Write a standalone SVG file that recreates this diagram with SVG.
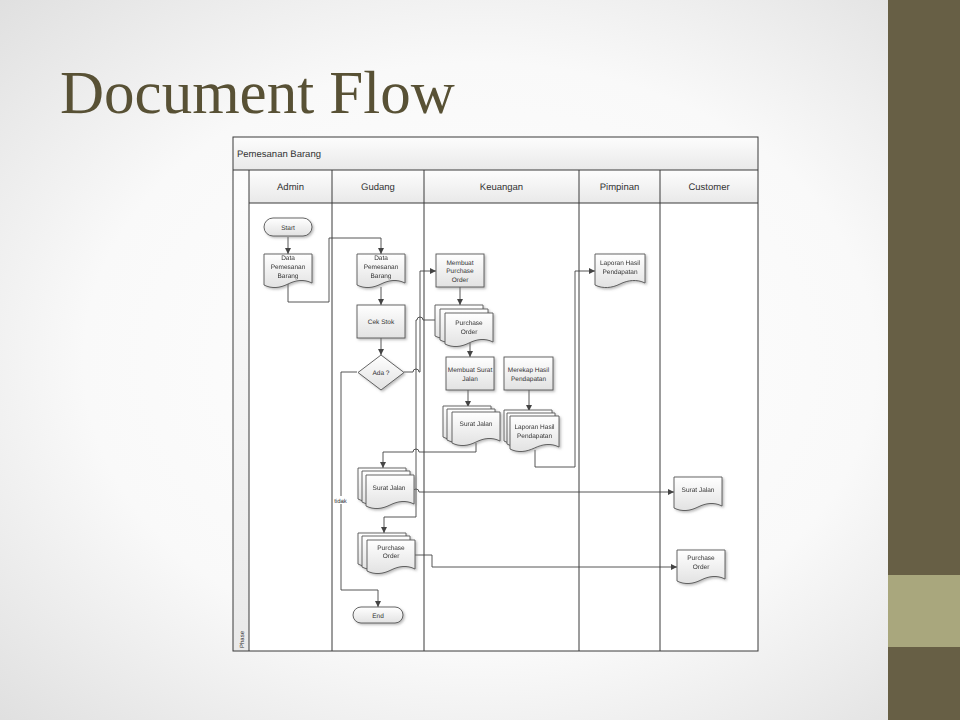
<svg xmlns="http://www.w3.org/2000/svg" xmlns:xlink="http://www.w3.org/1999/xlink" width="960" height="720" viewBox="0 0 960 720">
<defs>
<radialGradient id="bg" cx="0.5" cy="0.5" r="0.75">
<stop offset="0" stop-color="#ffffff"/>
<stop offset="0.55" stop-color="#f9f9f9"/>
<stop offset="1" stop-color="#dcdcdc"/>
</radialGradient>
<linearGradient id="hdr" x1="0" y1="0" x2="0" y2="1">
<stop offset="0" stop-color="#fdfdfd"/>
<stop offset="1" stop-color="#e9e9e9"/>
</linearGradient>
<linearGradient id="shp" x1="0" y1="0" x2="0" y2="1">
<stop offset="0" stop-color="#ffffff"/>
<stop offset="1" stop-color="#e2e2e2"/>
</linearGradient>
<filter id="sh" x="-20%" y="-20%" width="150%" height="150%">
<feDropShadow dx="1.5" dy="1.5" stdDeviation="0.8" flood-color="#777" flood-opacity="0.5"/>
</filter>
<path id="doc" d="M0,0 H48 V29 C40,25 32,26 24,30 C16,34 8,35 0,31 Z"/>
<marker id="arr" markerUnits="userSpaceOnUse" markerWidth="8" markerHeight="8" refX="6" refY="3" orient="auto">
<path d="M0,0 L6,3 L0,6 Z" fill="#444"/>
</marker>
<style>
text{text-rendering:geometricPrecision}
.frame{fill:none;stroke:#3a3a3a;stroke-width:1}
.lane{stroke:#3a3a3a;stroke-width:1}
.box{fill:url(#shp);stroke:#555;stroke-width:0.9;filter:url(#sh)}
.d{fill:url(#shp);stroke:#555;stroke-width:0.9}
.ds{filter:url(#sh)}
.t{font-family:"Liberation Sans",Arial,sans-serif;font-size:6.5px;fill:#333;text-anchor:middle}
.h{font-family:"Liberation Sans",Arial,sans-serif;font-size:9.5px;fill:#333;text-anchor:middle}
.c{fill:none;stroke:#444;stroke-width:0.9}
.ca{fill:none;stroke:#444;stroke-width:0.9;marker-end:url(#arr)}
</style>
</defs>

<rect x="0" y="0" width="960" height="720" fill="url(#bg)"/>
<rect x="888" y="0" width="72" height="720" fill="#675f45"/>
<rect x="888" y="575" width="72" height="72" fill="#a9a77d"/>

<text x="60" y="113" font-family="Liberation Serif,Georgia,serif" font-size="61" fill="#585135">Document Flow</text>

<g id="pool">
<rect x="233" y="137" width="525" height="514" fill="#ffffff"/>
<rect x="233" y="137" width="525" height="33" fill="url(#hdr)"/>
<rect x="233" y="170" width="16" height="481" fill="url(#hdr)"/>
<rect x="249" y="170" width="509" height="33" fill="url(#hdr)"/>
<text x="237" y="157" font-family="Liberation Sans,Arial,sans-serif" font-size="9.5" fill="#333">Pemesanan Barang</text>
<text transform="translate(243.5,648) rotate(-90)" font-family="Liberation Sans,Arial,sans-serif" font-size="6" fill="#333">Phase</text>
<line class="lane" x1="233" y1="170" x2="758" y2="170"/>
<line class="lane" x1="249" y1="203" x2="758" y2="203"/>
<line class="lane" x1="249" y1="170" x2="249" y2="651"/>
<line class="lane" x1="332" y1="170" x2="332" y2="651"/>
<line class="lane" x1="424" y1="170" x2="424" y2="651"/>
<line class="lane" x1="579" y1="170" x2="579" y2="651"/>
<line class="lane" x1="660" y1="170" x2="660" y2="651"/>
<rect class="frame" x="233" y="137" width="525" height="514"/>
<text class="h" x="290.5" y="189.5">Admin</text>
<text class="h" x="378" y="189.5">Gudang</text>
<text class="h" x="501.5" y="189.5">Keuangan</text>
<text class="h" x="619.5" y="189.5">Pimpinan</text>
<text class="h" x="709" y="189.5">Customer</text>
</g>

<g id="connectors">
<path class="ca" d="M288,237 V254"/>
<path class="ca" d="M288,284 V302 H329 V238 H381 V254"/>
<path class="ca" d="M381,287 V305"/>
<path class="ca" d="M381,338 V355"/>
<path class="ca" d="M404,372 H413 A3,3 0 0 1 419,372 H420 V271 H436"/>
<path class="ca" d="M460,287 V305"/>
<path class="ca" d="M435,320 H423 A3,3 0 0 0 417,320 H416 V517 H384 V533"/>
<path class="ca" d="M470,343 V357"/>
<path class="ca" d="M468,390 V407"/>
<path class="ca" d="M529,390 V411"/>
<path class="ca" d="M476,443 V452 H419 A3,3 0 0 0 413,452 H383 V468"/>
<path class="ca" d="M535,450 V467 H575 V271 H595"/>
<path class="ca" d="M413,492 A3,3 0 0 1 419,492 H674"/>
<path class="ca" d="M415,555 H432 V567 H677"/>
<path class="ca" d="M357,372 H341 V590 H378 V607"/>
<rect x="333" y="496" width="15" height="8" fill="#ffffff"/>
<text x="340.5" y="502.5" font-family="Liberation Sans,Arial,sans-serif" font-size="6" fill="#333" text-anchor="middle">tidak</text>
</g>

<g id="start">
<rect class="box" x="264" y="218" width="48" height="18" rx="9"/>
<text class="t" x="288" y="229.5">Start</text>
</g>
<g id="admin_data" class="ds">
<use href="#doc" class="d" x="264" y="254"/>
<text class="t" x="288" y="260">Data</text>
<text class="t" x="288" y="269">Pemesanan</text>
<text class="t" x="288" y="278">Barang</text>
</g>
<g id="gudang_data" class="ds">
<use href="#doc" class="d" x="357" y="254"/>
<text class="t" x="381" y="260">Data</text>
<text class="t" x="381" y="269">Pemesanan</text>
<text class="t" x="381" y="278">Barang</text>
</g>
<g id="cek_stok">
<rect class="box" x="357" y="305" width="48" height="33"/>
<text class="t" x="381" y="324">Cek Stok</text>
</g>
<g id="ada">
<path class="box" d="M381,355 L404,372.5 L381,390 L358,372.5 Z"/>
<text class="t" x="381" y="375">Ada ?</text>
</g>
<g id="end">
<rect class="box" x="353" y="607" width="50" height="16" rx="8"/>
<text class="t" x="378" y="617.5">End</text>
</g>
<g id="membuat_po">
<rect class="box" x="436" y="254" width="48" height="33"/>
<text class="t" x="460" y="264.5">Membuat</text>
<text class="t" x="460" y="273">Purchase</text>
<text class="t" x="460" y="281.5">Order</text>
</g>
<g id="po_keuangan" class="ds">
<use href="#doc" class="d" x="435" y="305"/>
<use href="#doc" class="d" x="440" y="309"/>
<use href="#doc" class="d" x="445" y="313"/>
<text class="t" x="469" y="325">Purchase</text>
<text class="t" x="469" y="333.5">Order</text>
</g>
<g id="membuat_sj">
<rect class="box" x="446" y="357" width="48" height="33"/>
<text class="t" x="470" y="372">Membuat Surat</text>
<text class="t" x="470" y="380.5">Jalan</text>
</g>
<g id="merekap">
<rect class="box" x="504" y="357" width="49" height="33"/>
<text class="t" x="528.5" y="372">Merekap Hasil</text>
<text class="t" x="528.5" y="380.5">Pendapatan</text>
</g>
<g id="sj_keuangan" class="ds">
<use href="#doc" class="d" x="443" y="406"/>
<use href="#doc" class="d" x="447" y="409"/>
<use href="#doc" class="d" x="452" y="412"/>
<text class="t" x="476" y="426">Surat Jalan</text>
</g>
<g id="laporan_keuangan" class="ds">
<use href="#doc" class="d" x="504" y="410"/>
<use href="#doc" class="d" x="507" y="413"/>
<path class="d" d="M510,416 H559 V447 C551,443 543,444 534.5,448 C526,452 518,453 510,449 Z"/>
<text class="t" x="534.5" y="429">Laporan Hasil</text>
<text class="t" x="534.5" y="437.5">Pendapatan</text>
</g>
<g id="laporan_pimpinan" class="ds">
<path class="d" d="M595,254 H645 V283 C637,279 628,280 620,284 C612,288 603,289 595,285 Z"/>
<text class="t" x="620" y="265">Laporan Hasil</text>
<text class="t" x="620" y="273.5">Pendapatan</text>
</g>
<g id="sj_gudang" class="ds">
<use href="#doc" class="d" x="358" y="468"/>
<use href="#doc" class="d" x="362" y="471"/>
<use href="#doc" class="d" x="366" y="475"/>
<text class="t" x="389" y="489.5">Surat Jalan</text>
</g>
<g id="po_gudang" class="ds">
<use href="#doc" class="d" x="358" y="533"/>
<use href="#doc" class="d" x="362" y="536"/>
<use href="#doc" class="d" x="367" y="540"/>
<text class="t" x="391" y="549.5">Purchase</text>
<text class="t" x="391" y="558">Order</text>
</g>
<g id="customer_sj" class="ds">
<use href="#doc" class="d" x="674" y="477"/>
<text class="t" x="698" y="491.5">Surat Jalan</text>
</g>
<g id="customer_po" class="ds">
<use href="#doc" class="d" x="677" y="550"/>
<text class="t" x="701" y="560">Purchase</text>
<text class="t" x="701" y="569">Order</text>
</g>
</svg>
